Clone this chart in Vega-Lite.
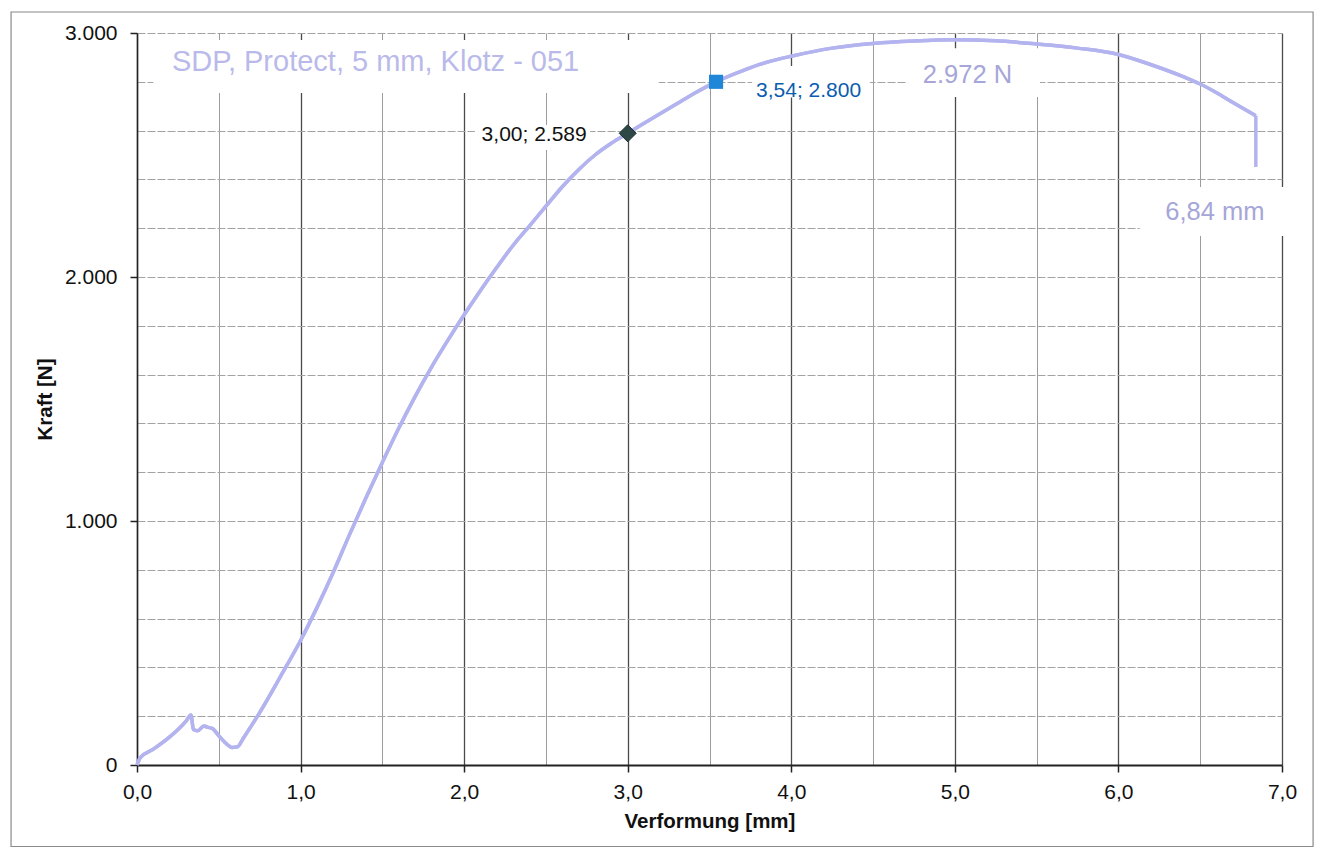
{
  "$schema": "https://vega.github.io/schema/vega-lite/v6.json",
  "autosize": "none",
  "width": 1145,
  "height": 732,
  "padding": {"left": 137, "top": 33, "right": 41, "bottom": 85},
  "background": "white",
  "config": {
    "font": "Liberation Sans",
    "view": {"stroke": null}
  },
  "datasets": {
    "curve": [
      {"mm": 0.0, "N": 0}, {"mm": 0.02, "N": 30}, {"mm": 0.1, "N": 65}, {"mm": 0.2, "N": 115},
      {"mm": 0.3, "N": 180}, {"mm": 0.33, "N": 205}, {"mm": 0.345, "N": 145}, {"mm": 0.37, "N": 140},
      {"mm": 0.41, "N": 160}, {"mm": 0.43, "N": 155}, {"mm": 0.46, "N": 150}, {"mm": 0.5, "N": 120},
      {"mm": 0.55, "N": 85}, {"mm": 0.58, "N": 72}, {"mm": 0.615, "N": 75}, {"mm": 0.65, "N": 110},
      {"mm": 0.75, "N": 215}, {"mm": 0.875, "N": 360}, {"mm": 1.0, "N": 510}, {"mm": 1.1, "N": 645},
      {"mm": 1.2, "N": 790}, {"mm": 1.3, "N": 945}, {"mm": 1.4, "N": 1095}, {"mm": 1.5, "N": 1240},
      {"mm": 1.6, "N": 1380}, {"mm": 1.7, "N": 1510}, {"mm": 1.8, "N": 1630}, {"mm": 1.9, "N": 1740},
      {"mm": 2.0, "N": 1845}, {"mm": 2.1, "N": 1945}, {"mm": 2.2, "N": 2040}, {"mm": 2.3, "N": 2130},
      {"mm": 2.4, "N": 2210}, {"mm": 2.5, "N": 2290}, {"mm": 2.6, "N": 2370}, {"mm": 2.7, "N": 2440},
      {"mm": 2.8, "N": 2500}, {"mm": 2.9, "N": 2548}, {"mm": 3.0, "N": 2589}, {"mm": 3.1, "N": 2630},
      {"mm": 3.2, "N": 2670}, {"mm": 3.3, "N": 2710}, {"mm": 3.4, "N": 2750}, {"mm": 3.54, "N": 2800},
      {"mm": 3.7, "N": 2845}, {"mm": 3.85, "N": 2880}, {"mm": 4.0, "N": 2905}, {"mm": 4.25, "N": 2938},
      {"mm": 4.5, "N": 2957}, {"mm": 4.75, "N": 2967}, {"mm": 5.0, "N": 2972}, {"mm": 5.25, "N": 2968},
      {"mm": 5.5, "N": 2955}, {"mm": 5.75, "N": 2938}, {"mm": 6.0, "N": 2912}, {"mm": 6.2, "N": 2870},
      {"mm": 6.4, "N": 2820}, {"mm": 6.5, "N": 2791}, {"mm": 6.6, "N": 2755}, {"mm": 6.7, "N": 2715},
      {"mm": 6.84, "N": 2661}
    ],
    "drop": [
      {"mm": 6.84, "N": 2661, "N2": 2451}
    ],
    "boxes": [
      {"mm": 0.1, "mm2": 3.19, "N": 2754, "N2": 2971},
      {"mm": 2.066, "mm2": 2.77, "N": 2521, "N2": 2623},
      {"mm": 3.76, "mm2": 4.48, "N": 2736, "N2": 2865},
      {"mm": 4.71, "mm2": 5.52, "N": 2738, "N2": 2938},
      {"mm": 6.13, "mm2": 7.06, "N": 2168, "N2": 2369}
    ]
  },
  "layer": [
    {
      "data": {"name": "curve"},
      "mark": {"type": "line", "color": "#b3b3ef", "strokeWidth": 3.5, "clip": false, "interpolate": "monotone"},
      "encoding": {
        "x": {
          "field": "mm", "type": "quantitative",
          "scale": {"domain": [0, 7], "nice": false, "zero": false},
          "axis": {
            "title": "Verformung [mm]",
            "titleFont": "Liberation Sans", "titleFontSize": 20.5, "titleFontWeight": "bold", "titleColor": "#111",
            "titlePadding": 9,
            "values": [0, 0.5, 1, 1.5, 2, 2.5, 3, 3.5, 4, 4.5, 5, 5.5, 6, 6.5, 7],
            "labelExpr": "datum.value % 1 === 0 ? replace(format(datum.value, '.1f'), '.', ',') : ''",
            "labelFontSize": 21, "labelColor": "#111", "labelFlush": false, "labelOverlap": false, "labelPadding": 9,
            "domainColor": "#222", "domainWidth": 2,
            "tickColor": "#222", "tickSize": 7, "tickWidth": 1.5,
            "tickOpacity": {"condition": {"test": "datum.value % 1 === 0", "value": 1}, "value": 0},
            "grid": true,
            "gridColor": {"condition": {"test": "datum.value % 1 === 0", "value": "#4a4a4a"}, "value": "#9c9c9c"},
            "gridWidth": {"condition": {"test": "datum.value % 1 === 0", "value": 1.3}, "value": 1}
          }
        },
        "y": {
          "field": "N", "type": "quantitative",
          "scale": {"domain": [0, 3000], "nice": false, "zero": false},
          "axis": {
            "title": "Kraft [N]",
            "titleFont": "Liberation Sans", "titleFontSize": 20.5, "titleFontWeight": "bold", "titleColor": "#111",
            "titlePadding": 9,
            "values": [0, 200, 400, 600, 800, 1000, 1200, 1400, 1600, 1800, 2000, 2200, 2400, 2600, 2800, 3000],
            "labelExpr": "datum.value % 1000 === 0 ? replace(format(datum.value, ','), ',', '.') : ''",
            "labelFontSize": 21, "labelColor": "#111", "labelFlush": false, "labelOverlap": false, "labelPadding": 13,
            "domainColor": "#222", "domainWidth": 1.5,
            "tickColor": "#222", "tickSize": 7, "tickWidth": 1.5,
            "tickOpacity": {"condition": {"test": "datum.value % 1000 === 0", "value": 1}, "value": 0},
            "grid": true,
            "gridColor": "#a3a3a3",
            "gridWidth": 1,
            "gridDash": [8, 2]
          }
        }
      }
    },
    {
      "data": {"values": [{}]},
      "mark": {"type": "rect", "fill": null, "stroke": "#8a8a8a", "strokeWidth": 1.2, "clip": false},
      "encoding": {
        "x": {"datum": -0.77, "type": "quantitative", "scale": {"domain": [0, 7], "nice": false, "zero": false}},
        "x2": {"datum": 7.19},
        "y": {"datum": 3086, "type": "quantitative", "scale": {"domain": [0, 3000], "nice": false, "zero": false}},
        "y2": {"datum": -334}
      }
    },
    {
      "data": {"name": "boxes"},
      "mark": {"type": "rect", "fill": "white", "clip": false},
      "encoding": {
        "x": {"field": "mm", "type": "quantitative", "scale": {"domain": [0, 7], "nice": false, "zero": false}},
        "x2": {"field": "mm2"},
        "y": {"field": "N", "type": "quantitative", "scale": {"domain": [0, 3000], "nice": false, "zero": false}},
        "y2": {"field": "N2"}
      }
    },
    {
      "data": {"name": "curve"},
      "mark": {"type": "line", "color": "#b3b3ef", "strokeWidth": 3.5, "clip": false, "interpolate": "monotone"},
      "encoding": {
        "x": {"field": "mm", "type": "quantitative", "scale": {"domain": [0, 7], "nice": false, "zero": false}},
        "y": {"field": "N", "type": "quantitative", "scale": {"domain": [0, 3000], "nice": false, "zero": false}}
      }
    },
    {
      "data": {"name": "drop"},
      "mark": {"type": "rule", "color": "#b3b3ef", "strokeWidth": 3.5, "clip": false},
      "encoding": {
        "x": {"field": "mm", "type": "quantitative", "scale": {"domain": [0, 7], "nice": false, "zero": false}},
        "y": {"field": "N", "type": "quantitative", "scale": {"domain": [0, 3000], "nice": false, "zero": false}},
        "y2": {"field": "N2"}
      }
    },
    {
      "data": {"values": [{"mm": 3.0, "N": 2589}]},
      "mark": {"type": "point", "shape": "diamond", "filled": true, "size": 290, "color": "#2d4846", "stroke": "#1d2e2d", "strokeWidth": 1, "opacity": 1},
      "encoding": {
        "x": {"field": "mm", "type": "quantitative", "scale": {"domain": [0, 7], "nice": false, "zero": false}},
        "y": {"field": "N", "type": "quantitative", "scale": {"domain": [0, 3000], "nice": false, "zero": false}}
      }
    },
    {
      "data": {"values": [{"mm": 3.54, "N": 2800}]},
      "mark": {"type": "point", "shape": "square", "filled": true, "size": 200, "color": "#1f86d8", "opacity": 1},
      "encoding": {
        "x": {"field": "mm", "type": "quantitative", "scale": {"domain": [0, 7], "nice": false, "zero": false}},
        "y": {"field": "N", "type": "quantitative", "scale": {"domain": [0, 3000], "nice": false, "zero": false}}
      }
    },
    {
      "data": {"values": [{"mm": 3.0, "N": 2589, "label": "3,00; 2.589"}]},
      "mark": {"type": "text", "align": "right", "baseline": "middle", "dx": -41, "dy": 2, "fontSize": 21, "color": "#111", "font": "Liberation Sans"},
      "encoding": {
        "x": {"field": "mm", "type": "quantitative", "scale": {"domain": [0, 7], "nice": false, "zero": false}},
        "y": {"field": "N", "type": "quantitative", "scale": {"domain": [0, 3000], "nice": false, "zero": false}},
        "text": {"field": "label"}
      }
    },
    {
      "data": {"values": [{"mm": 3.54, "N": 2800, "label": "3,54; 2.800"}]},
      "mark": {"type": "text", "align": "left", "baseline": "middle", "dx": 40, "dy": 9, "fontSize": 21, "color": "#0b5cae", "font": "Liberation Sans"},
      "encoding": {
        "x": {"field": "mm", "type": "quantitative", "scale": {"domain": [0, 7], "nice": false, "zero": false}},
        "y": {"field": "N", "type": "quantitative", "scale": {"domain": [0, 3000], "nice": false, "zero": false}},
        "text": {"field": "label"}
      }
    },
    {
      "data": {"values": [{"mm": 0.214, "N": 2881, "label": "SDP, Protect, 5 mm, Klotz - 051"}]},
      "mark": {"type": "text", "align": "left", "baseline": "middle", "fontSize": 29, "color": "#babaea", "font": "Liberation Sans"},
      "encoding": {
        "x": {"field": "mm", "type": "quantitative", "scale": {"domain": [0, 7], "nice": false, "zero": false}},
        "y": {"field": "N", "type": "quantitative", "scale": {"domain": [0, 3000], "nice": false, "zero": false}},
        "text": {"field": "label"}
      }
    },
    {
      "data": {"values": [{"mm": 5.077, "N": 2828, "label": "2.972 N"}, {"mm": 6.59, "N": 2266, "label": "6,84 mm"}]},
      "mark": {"type": "text", "align": "center", "baseline": "middle", "fontSize": 25.5, "color": "#a6a6d8", "font": "Liberation Sans"},
      "encoding": {
        "x": {"field": "mm", "type": "quantitative", "scale": {"domain": [0, 7], "nice": false, "zero": false}},
        "y": {"field": "N", "type": "quantitative", "scale": {"domain": [0, 3000], "nice": false, "zero": false}},
        "text": {"field": "label"}
      }
    }
  ]
}
